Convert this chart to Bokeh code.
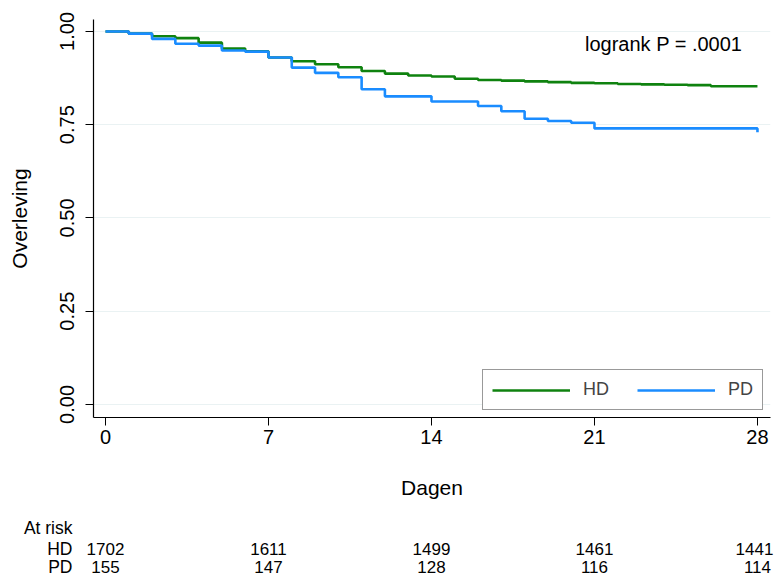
from bokeh.plotting import figure
from bokeh.models import Range1d, FixedTicker, PrintfTickFormatter, Label, Legend, LegendItem, ColumnDataSource
from bokeh.layouts import column
from bokeh.embed import file_html
from bokeh.resources import INLINE
from bokeh.core.properties import value

# ---- data ----
days = list(range(29))
hd_surv = [1.000, 0.994, 0.987, 0.982, 0.970, 0.954, 0.947, 0.930, 0.920, 0.912,
           0.904, 0.894, 0.887, 0.882, 0.879, 0.873, 0.870, 0.868, 0.866, 0.864,
           0.862, 0.861, 0.859, 0.858, 0.857, 0.856, 0.853, 0.853, 0.853]
pd_surv = [1.000, 0.994, 0.980, 0.967, 0.962, 0.949, 0.946, 0.930, 0.903, 0.889,
           0.877, 0.845, 0.826, 0.826, 0.812, 0.812, 0.800, 0.786, 0.766, 0.760,
           0.755, 0.740, 0.740, 0.740, 0.740, 0.740, 0.740, 0.740, 0.730]
risk_days = [0, 7, 14, 21, 28]
hd_risk = [1702, 1611, 1499, 1461, 1441]
pd_risk = [155, 147, 128, 116, 114]
row_labels = ["At risk", "HD", "PD"]
x_ticks = [0, 7, 14, 21, 28]
y_ticks = [0.0, 0.25, 0.5, 0.75, 1.0]
logrank_text = "logrank P = .0001"

FONT = "Liberation Sans"
GREEN = "#0f820f"
BLUE = "#1a8cff"

W = 774
H1, H2 = 510, 67
L, R, T = 93, 4, 19
B1 = H1 - 417
X0, X1 = -0.515, 28.56
Y0, Y1 = -0.035, 1.032
ppd = (W - L - R) / (X1 - X0)

p = figure(width=W, height=H1, output_backend="svg", toolbar_location=None,
           x_range=Range1d(X0, X1), y_range=Range1d(Y0, Y1),
           min_border_left=L, min_border_right=R, min_border_top=T, min_border_bottom=B1)
p.frame_align = False
p.outline_line_color = None
p.background_fill_color = "white"
p.border_fill_color = "white"

l1 = p.step(days, hd_surv, mode="after", line_color=GREEN, line_width=2.6)
l2 = p.step(days, pd_surv, mode="after", line_color=BLUE, line_width=2.6)

p.xgrid.visible = False
p.ygrid.grid_line_color = "#eaf2f3"
p.ygrid.grid_line_width = 1.2

p.xaxis.ticker = FixedTicker(ticks=x_ticks)
p.yaxis.ticker = FixedTicker(ticks=y_ticks)
p.yaxis.formatter = PrintfTickFormatter(format="%.2f")
p.yaxis.major_label_orientation = "vertical"
for ax in (p.xaxis[0], p.yaxis[0]):
    ax.axis_line_color = "black"
    ax.axis_line_width = 1.2
    ax.major_tick_out = 8
    ax.major_tick_in = 0
    ax.minor_tick_line_color = None
    ax.major_tick_line_color = "black"
    ax.major_label_text_font = FONT
    ax.major_label_text_font_size = "20px"
    ax.major_label_text_color = "black"
    ax.axis_label_text_font = FONT
    ax.axis_label_text_font_size = "21px"
    ax.axis_label_text_font_style = "normal"
    ax.axis_label_text_color = "black"
p.xaxis.axis_label = "Dagen"
p.yaxis.axis_label = "Overleving"
p.xaxis.major_label_standoff = 4
p.xaxis.axis_label_standoff = 29
p.yaxis.major_label_standoff = 11
p.yaxis.axis_label_standoff = 27

legend = Legend(items=[LegendItem(label="HD", renderers=[l1]),
                       LegendItem(label="PD", renderers=[l2])],
                orientation="horizontal", location=(389, 7))
legend.label_text_font = FONT
legend.label_text_font_size = "18px"
legend.glyph_width = 78
legend.glyph_height = 18
legend.label_standoff = 13
legend.spacing = 28
legend.padding = 9
legend.margin = 0
legend.border_line_color = "#333333"
legend.border_line_width = 1
legend.background_fill_alpha = 1
p.add_layout(legend, "center")

p.add_layout(Label(x=27.35, y=0.965, text=logrank_text, text_align="right",
                   text_baseline="middle", text_font=FONT, text_font_size="20px",
                   text_color="black"))

# ---- at-risk table: a full-width strip on the same day scale ----
ROW_Y = [17, 38, 56.5]   # row positions (pixels from top of the table strip)
LAB_X = -1.417            # right edge of the row labels, in days
p2 = figure(width=W, height=H2, output_backend="svg", toolbar_location=None,
            x_range=Range1d(X0 - L / ppd, X1 + R / ppd), y_range=Range1d(H2, 0),
            min_border_left=0, min_border_right=0, min_border_top=0, min_border_bottom=0)
p2.frame_align = False
p2.outline_line_color = None
p2.grid.visible = False
p2.axis.visible = False

n = len(risk_days)
# keep the widest number of the last column inside the page edge
dx = [0] * (n - 1) + [-3] + [0] * n
src = ColumnDataSource(dict(
    x=risk_days + risk_days,
    y=[ROW_Y[1]] * n + [ROW_Y[2]] * n,
    t=[str(v) for v in hd_risk] + [str(v) for v in pd_risk],
    dx=dx))
p2.text(x="x", y="y", text="t", source=src, x_offset="dx", text_align="center",
        text_baseline="middle", text_font=value(FONT), text_font_size="17px",
        text_color="black")
src2 = ColumnDataSource(dict(x=[LAB_X] * 3, y=ROW_Y, t=row_labels))
p2.text(x="x", y="y", text="t", source=src2, text_align="right", text_baseline="middle",
        text_font=value(FONT), text_font_size="17.5px", text_color="black")

layout = column(p, p2, spacing=0)
open("out.html", "w").write(file_html(layout, INLINE))
